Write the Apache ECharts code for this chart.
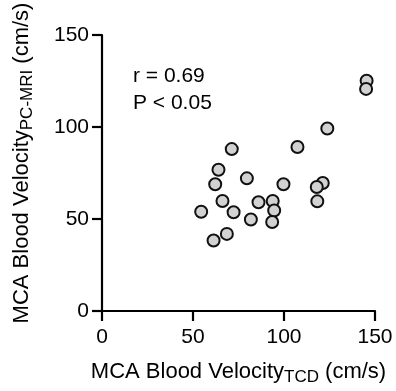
<!DOCTYPE html>
<html>
<head>
<meta charset="utf-8">
<script src="https://cdn.jsdelivr.net/npm/echarts@6/dist/echarts.min.js"></script>
<style>
  html, body { margin: 0; padding: 0; background: #fff; }
  #chart { width: 396px; height: 391px; }
</style>
</head>
<body>
<div id="chart"></div>
<script>
// ---------- data ----------
const tcdVelocity = [145.4, 145.1, 123.8, 107.4, 71.3, 64.0, 79.6, 62.2, 99.7, 121.3, 118.0,
  66.2, 86.0, 93.8, 118.3, 94.6, 54.5, 72.3, 81.8, 93.5, 68.6, 61.3];
const mriVelocity = [125.1, 120.7, 99.2, 89.1, 88.0, 76.8, 72.1, 68.9, 68.9, 69.6, 67.4,
  59.8, 59.1, 59.8, 59.6, 54.6, 53.9, 53.7, 49.7, 48.4, 41.9, 38.3];
const axisTicks = [0, 50, 100, 150];
const statsLines = ['r = 0.69', 'P < 0.05'];

const FONT = '"Liberation Sans", Arial, Helvetica, sans-serif';
const INK = '#000';

const points = tcdVelocity.map((x, i) => [x, mriVelocity[i]]);

const chart = echarts.init(document.getElementById('chart'), null, { renderer: 'canvas' });

// subscript style shared by both axis titles
const subRich = { sub: { fontSize: 17, fontFamily: FONT, color: INK, padding: [11, 0, 0, 0] } };

const axisCommon = {
  type: 'value',
  min: axisTicks[0],
  max: axisTicks[axisTicks.length - 1],
  interval: 50,
  nameLocation: 'middle',
  axisLine: { show: true, onZero: false, lineStyle: { color: INK, width: 2.2 } },
  axisTick: { show: true, length: 10, lineStyle: { color: INK, width: 2.2 } },
  splitLine: { show: false }
};

chart.setOption({
  animation: false,
  backgroundColor: '#fff',
  grid: { left: 102, right: 21, top: 35, bottom: 79 },
  xAxis: Object.assign({}, axisCommon, {
    name: 'MCA Blood Velocity{sub|TCD} (cm/s)',
    nameGap: 47,
    nameTextStyle: { color: INK, fontSize: 22, fontFamily: FONT, rich: subRich },
    axisLabel: { color: INK, fontSize: 21, fontFamily: FONT, margin: 16 }
  }),
  yAxis: Object.assign({}, axisCommon, {
    name: 'MCA Blood Velocity{sub|PC-MRI} (cm/s)',
    nameGap: 66,
    nameTextStyle: {
      color: INK, fontSize: 22, fontFamily: FONT, rich: subRich,
      padding: [0, 0, 0, 20]
    },
    axisLabel: { color: INK, fontSize: 21, fontFamily: FONT, margin: 13 }
  }),
  graphic: [
    {
      type: 'text', left: 133, top: 63, silent: true,
      style: { text: statsLines.join('\n'), fill: INK, fontSize: 21, fontFamily: FONT, lineHeight: 27 }
    }
  ],
  series: [
    {
      type: 'scatter',
      data: points,
      symbol: 'circle',
      symbolSize: 12,
      itemStyle: { color: '#d2d2d2', borderColor: '#111', borderWidth: 2, opacity: 1 }
    }
  ]
});
</script>
</body>
</html>
